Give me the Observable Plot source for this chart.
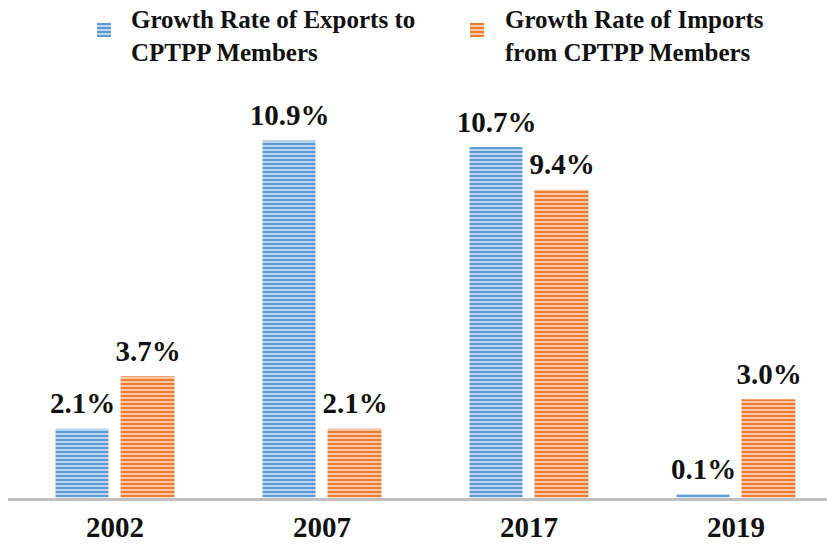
<!DOCTYPE html>
<html>
<head>
<meta charset="utf-8">
<script src="https://cdn.jsdelivr.net/npm/d3@7"></script>
<script src="https://cdn.jsdelivr.net/npm/@observablehq/plot@0.6"></script>
<style>
  html, body { margin: 0; padding: 0; background: #fff; }
  #wrap { position: relative; width: 827px; height: 548px; overflow: hidden; font-family: "Liberation Serif", "Times New Roman", serif; }
  #legend { position: relative; height: 75px; width: 827px; }
  .sw { position: absolute; top: 23px; width: 14px; height: 14px; }
  .lt { position: absolute; top: 3px; font-size: 25px; font-weight: bold; line-height: 33px; color: #111; white-space: nowrap; }
</style>
</head>
<body>
<div id="wrap">
  <div id="legend"></div>
  <div id="chart"></div>
</div>
<script>
const years = ["2002", "2007", "2017", "2019"];
const exportsGrowth = [2.1, 10.9, 10.7, 0.1];
const importsGrowth = [3.7, 2.1, 9.4, 3.0];
const seriesNames = ["Growth Rate of Exports to<br>CPTPP Members", "Growth Rate of Imports<br>from CPTPP Members"];

const blue = "#5b9bd5", blueLight = "#bcd5ef";
const orange = "#ed7d31", orangeLight = "#f8c7a6";

const data = years.map((y, i) => ({year: y, exp: exportsGrowth[i], imp: importsGrowth[i]}));

// legend
const legend = document.getElementById("legend");
const legendItems = [
  {name: seriesNames[0], c: blue, l: blueLight, sx: 97, tx: 131},
  {name: seriesNames[1], c: orange, l: orangeLight, sx: 470, tx: 505}
];
for (const it of legendItems) {
  const sw = document.createElement("div");
  sw.className = "sw";
  sw.style.left = it.sx + "px";
  sw.style.background = `repeating-linear-gradient(to bottom, ${it.c} 0px, ${it.c} 2px, ${it.l} 2px, ${it.l} 4px)`;
  legend.appendChild(sw);
  const t = document.createElement("div");
  t.className = "lt";
  t.style.left = it.tx + "px";
  t.innerHTML = it.name;
  legend.appendChild(t);
}

const H = 473;
const base = 422.5;
const k = 32.75;

const chart = Plot.plot({
  width: 827,
  height: H,
  marginLeft: 8,
  marginRight: 0,
  marginTop: 0,
  marginBottom: H - base,
  style: {fontFamily: "Liberation Serif, Times New Roman, serif", fontWeight: "bold", color: "#111", background: "white"},
  x: {domain: years, range: [10.5, 838.5], padding: 0, label: null},
  y: {domain: [0, 12], range: [base, base - 12 * k], axis: null},
  marks: [
    Plot.barY(data, {x: "year", y: "exp", fill: "url(#stripeBlue)", insetLeft: 44.5, insetRight: 109.5}),
    Plot.barY(data, {x: "year", y: "imp", fill: "url(#stripeOrange)", insetLeft: 109.5, insetRight: 43.5}),
    Plot.ruleY([0], {stroke: "#bfbfbf", strokeWidth: 3, dy: 1.5}),
    Plot.text(data, {x: "year", y: "exp", text: d => d.exp.toFixed(1) + "%", dx: -32.5, dy: -16, lineAnchor: "bottom", fontSize: 29, fontWeight: "bold", fill: "#111"}),
    Plot.text(data, {x: "year", y: "imp", text: d => d.imp.toFixed(1) + "%", dx: 33, dy: -16, lineAnchor: "bottom", fontSize: 29, fontWeight: "bold", fill: "#111"}),
    Plot.axisX({tickSize: 0, tickPadding: 18, fontSize: 29, fontWeight: "bold", label: null, fill: "#111"})
  ]
});

const svg = d3.select(chart);
const defs = svg.insert("defs", ":first-child");
function stripe(id, c, l) {
  const p = defs.append("pattern").attr("id", id).attr("patternUnits", "userSpaceOnUse")
    .attr("width", 8).attr("height", 4);
  p.append("rect").attr("width", 8).attr("height", 4).attr("fill", l);
  p.append("rect").attr("width", 8).attr("height", 2).attr("fill", c);
}
stripe("stripeBlue", blue, blueLight);
stripe("stripeOrange", orange, orangeLight);

document.getElementById("chart").appendChild(chart);
</script>
</body>
</html>
